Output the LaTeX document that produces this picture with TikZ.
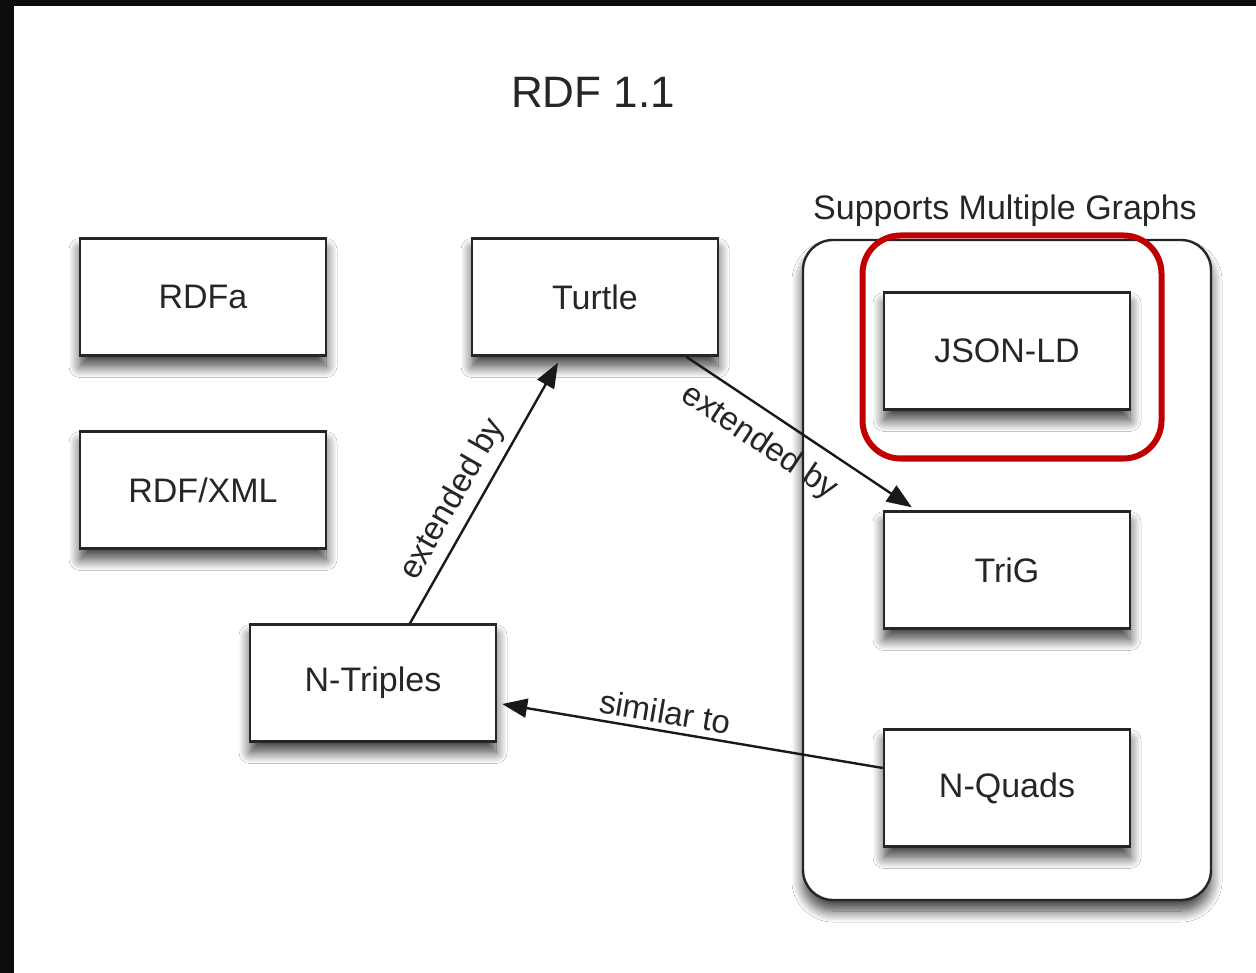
\documentclass[tikz,border=0pt]{standalone}
\usepackage{fontspec}
\setmainfont{Liberation Sans}
\usetikzlibrary{arrows.meta,shadows.blur}
\begin{document}
\begin{tikzpicture}[x=1pt,y=-1pt,
  shadowed/.style={blur shadow={shadow xshift=0pt,shadow yshift=-11pt,shadow blur radius=11pt,shadow opacity=75,shadow blur steps=12}},
  box/.style={draw=black!85,line width=2.4pt,fill=white,minimum width=246pt,minimum height=117pt,
    font=\fontsize{34}{40}\selectfont,text=black!85,shadowed},
  container/.style={draw=black!85,line width=2.4pt,fill=white,rounded corners=30pt,
    minimum width=408pt,minimum height=660pt,shadowed},
  highlight/.style={draw={rgb,255:red,192;green,0;blue,0},line width=6pt,rounded corners=38pt,
    minimum width=299pt,minimum height=223pt},
  conn/.style={line width=2.4pt,draw=black!90,-{Triangle[length=25pt,width=19pt]}},
  lbl/.style={font=\fontsize{33}{38}\selectfont,text=black!85,sloped,inner sep=2pt}]
\fill[black!95] (0,0) rectangle (1256,973);
\fill[white] (14,6) rectangle (1256,973);
\useasboundingbox (0,0) rectangle (1256,973);

\node[font=\fontsize{44}{50}\selectfont,text=black!85] (title) at (593,92) {RDF 1.1};
\node[font=\fontsize{34}{40}\selectfont,text=black!85] (caption) at (1005,211) {Supports Multiple Graphs};

\node[container] (group) at (1007,570) {};
\node[box] (rdfa) at (203,297) {RDFa};
\node[box] (rdfxml) at (203,490) {RDF/XML};
\node[box] (turtle) at (595,297) {Turtle};
\node[box] (ntriples) at (373,683) {N-Triples};
\node[box] (jsonld) at (1007,351) {JSON-LD};
\node[box] (trig) at (1007,570) {TriG};
\node[box] (nquads) at (1007,788) {N-Quads};
\node[highlight] (hl) at (1012,347) {};

\draw[conn] ([xshift=37pt]ntriples.north) -- node[lbl,pos=0.43,above=5pt] {extended by} ([xshift=-37pt,yshift=-6pt]turtle.south);
\draw[conn] ([xshift=-33pt]turtle.south east) -- node[lbl,pos=0.40,below=12pt] {extended by} ([xshift=29pt,yshift=3pt]trig.north west);
\draw[conn] ([yshift=20pt]nquads.west) -- node[lbl,pos=0.58,above=4pt] {similar to} ([xshift=5pt,yshift=-21pt]ntriples.east);
\end{tikzpicture}
\end{document}
